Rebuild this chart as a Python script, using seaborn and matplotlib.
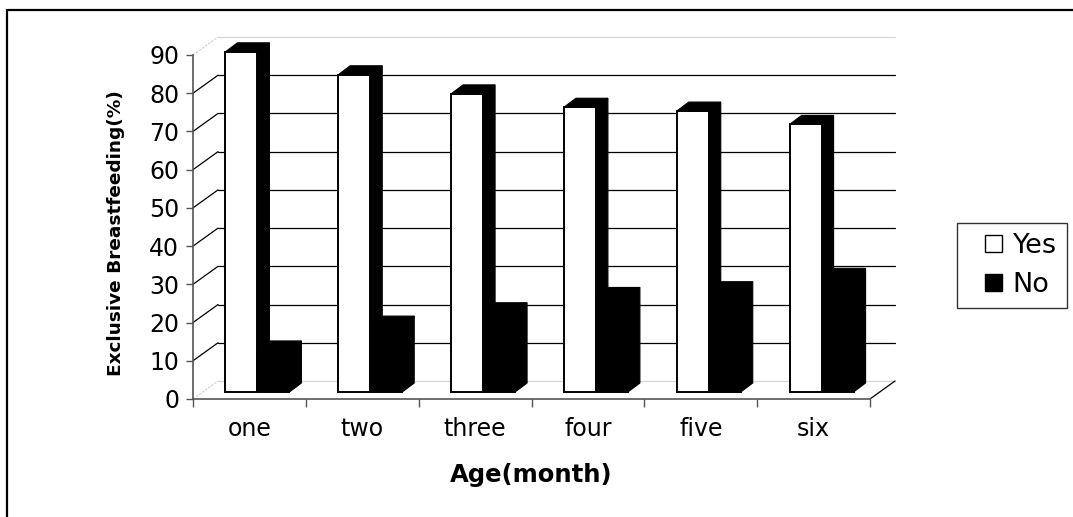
import numpy as np
import pandas as pd
import matplotlib
matplotlib.use("Agg")
import matplotlib.pyplot as plt
import seaborn as sns
from matplotlib.transforms import Affine2D, IdentityTransform
from matplotlib.patches import Polygon, Rectangle, Patch
from matplotlib.lines import Line2D
from matplotlib.legend_handler import HandlerPatch

# ---- data -------------------------------------------------------------
ages = ["one", "two", "three", "four", "five", "six"]
yes_pct = [89, 83, 78, 74.5, 73.5, 70]
no_pct = [11, 17.5, 21, 25, 26.5, 30]
responses = ["Yes", "No"]
y_ticks = list(range(0, 100, 10))

df = pd.DataFrame({
    "Age": ages * 2,
    "pct": yes_pct + no_pct,
    "Response": ["Yes"] * len(ages) + ["No"] * len(ages),
})

# ---- figure -----------------------------------------------------------
W, H, DPI = 1073, 517, 100
sns.set_theme(style="white")
plt.rcParams["font.family"] = ["DejaVu Sans"]

fig = plt.figure(figsize=(W / DPI, H / DPI), dpi=DPI)
fig.patch.set_facecolor("white")
ax = fig.add_axes([193 / W, 1 - 399 / H, (870 - 193) / W, (399 - 55) / H])
ax.set_facecolor("none")

sns.barplot(data=df, x="Age", y="pct", hue="Response", order=ages,
            hue_order=responses, palette={"Yes": "white", "No": "black"},
            edgecolor="black", linewidth=1.4, width=0.567, saturation=1,
            errorbar=None, legend=False, ax=ax)
ax.set_xlim(-0.5, len(ages) - 0.5)
ax.set_ylim(0, 90)

# pseudo-3D geometry (pixel offsets)
FRONT = np.array([8.0, 7.0])     # bar front plane relative to axis plane
BAR_D = np.array([12.0, 9.0])    # bar depth
WALL_D = np.array([25.0, 18.0])  # back wall depth


def disp(x, y):
    return np.asarray(ax.transData.transform((x, y)))


def pix_line(p, q, **kw):
    ln = Line2D([p[0], q[0]], [p[1], q[1]], transform=IdentityTransform(), **kw)
    ln.set_clip_on(False)
    ax.add_artist(ln)


x0, x1 = ax.get_xlim()
for v in y_ticks:
    edge = v in (y_ticks[0], y_ticks[-1])
    col = "#d6d6d6" if edge else "black"
    ls = (0, (2, 1)) if edge else "-"
    a, b = disp(x0, v), disp(x1, v)
    pix_line(a + WALL_D, b + WALL_D, color=col, lw=0.9, zorder=1)
    pix_line(a, a + WALL_D, color=col, lw=0.9, ls=ls, zorder=1)
pix_line(disp(x1, 0), disp(x1, 0) + WALL_D, color="black", lw=0.9, zorder=1)

# extrude each bar: shifted front face plus black top and side faces
for p in list(ax.patches):
    x, w, h = p.get_x(), p.get_width(), p.get_height()
    cat = int(round(x + w / 2))
    hue_idx = 0 if p.get_facecolor()[0] > 0.5 else 1
    z = 3 + cat * 2 + hue_idx
    p.set_transform(ax.transData + Affine2D().translate(*FRONT))
    p.set_zorder(z)
    p.set_clip_on(False)
    fl = disp(x, h) + FRONT
    fr = disp(x + w, h) + FRONT
    br = disp(x + w, 0) + FRONT
    for pts in ([fl, fr, fr + BAR_D, fl + BAR_D],
                [br, fr, fr + BAR_D, br + BAR_D]):
        poly = Polygon(np.array(pts), closed=True, facecolor="black",
                       edgecolor="black", lw=0.8,
                       transform=IdentityTransform(), zorder=z)
        poly.set_clip_on(False)
        ax.add_artist(poly)

# ---- axes styling -----------------------------------------------------
for s in ("top", "right"):
    ax.spines[s].set_visible(False)
for s in ("left", "bottom"):
    ax.spines[s].set_color("#555555")
    ax.spines[s].set_linewidth(1.2)

ax.set_yticks(y_ticks)
ax.set_xticks(np.arange(-0.5, len(ages)), minor=True)
ax.tick_params(axis="y", left=True, length=5, width=1, color="#555555",
               pad=5, labelsize=17, labelcolor="black")
ax.tick_params(axis="x", which="major", bottom=True, length=0, pad=13,
               labelsize=17, labelcolor="black")
ax.tick_params(axis="x", which="minor", bottom=True, length=6, width=1,
               color="#555555")
ax.set_xlabel("")
ax.set_ylabel("")

fig.text(531.5 / W, 1 - 482 / H, "Age(month)", ha="center", va="baseline",
         fontsize=17.5, fontweight="bold", color="black")
fig.text(116 / W, 1 - 233 / H, "Exclusive Breastfeeding(%)", rotation=90,
         ha="center", va="center", fontsize=13.3, fontweight="bold",
         color="black")


# legend keys: small squares sitting at the right end of the key slot
def square_key(legend, orig_handle, xdescent, ydescent, width, height, fontsize):
    side = 0.62 * fontsize
    return Rectangle((width - xdescent - side, -ydescent + (height - side) / 2),
                     side, side)


handles = [Patch(facecolor="white", edgecolor="black", lw=1, label="Yes"),
           Patch(facecolor="black", edgecolor="black", lw=1, label="No")]
leg = fig.legend(handles=handles, loc="upper left",
                 bbox_to_anchor=(957 / W, 1 - 223 / H),
                 bbox_transform=fig.transFigure, frameon=True, fancybox=False,
                 fontsize=19.5, handlelength=1.3, handleheight=0.7,
                 handletextpad=0.4, borderpad=0.36, labelspacing=0.5,
                 borderaxespad=0,
                 handler_map={Patch: HandlerPatch(patch_func=square_key)})
leg.get_frame().set_edgecolor("black")
leg.get_frame().set_linewidth(1)
for t in leg.get_texts():
    t.set_color("black")

# outer chart border
fig.add_artist(Rectangle((7 / W, -0.1), 1.2, 1 - 10 / H + 0.1,
                         transform=fig.transFigure, fill=False,
                         edgecolor="black", lw=1.6))

fig.savefig("out.png", dpi=DPI, facecolor="white")
